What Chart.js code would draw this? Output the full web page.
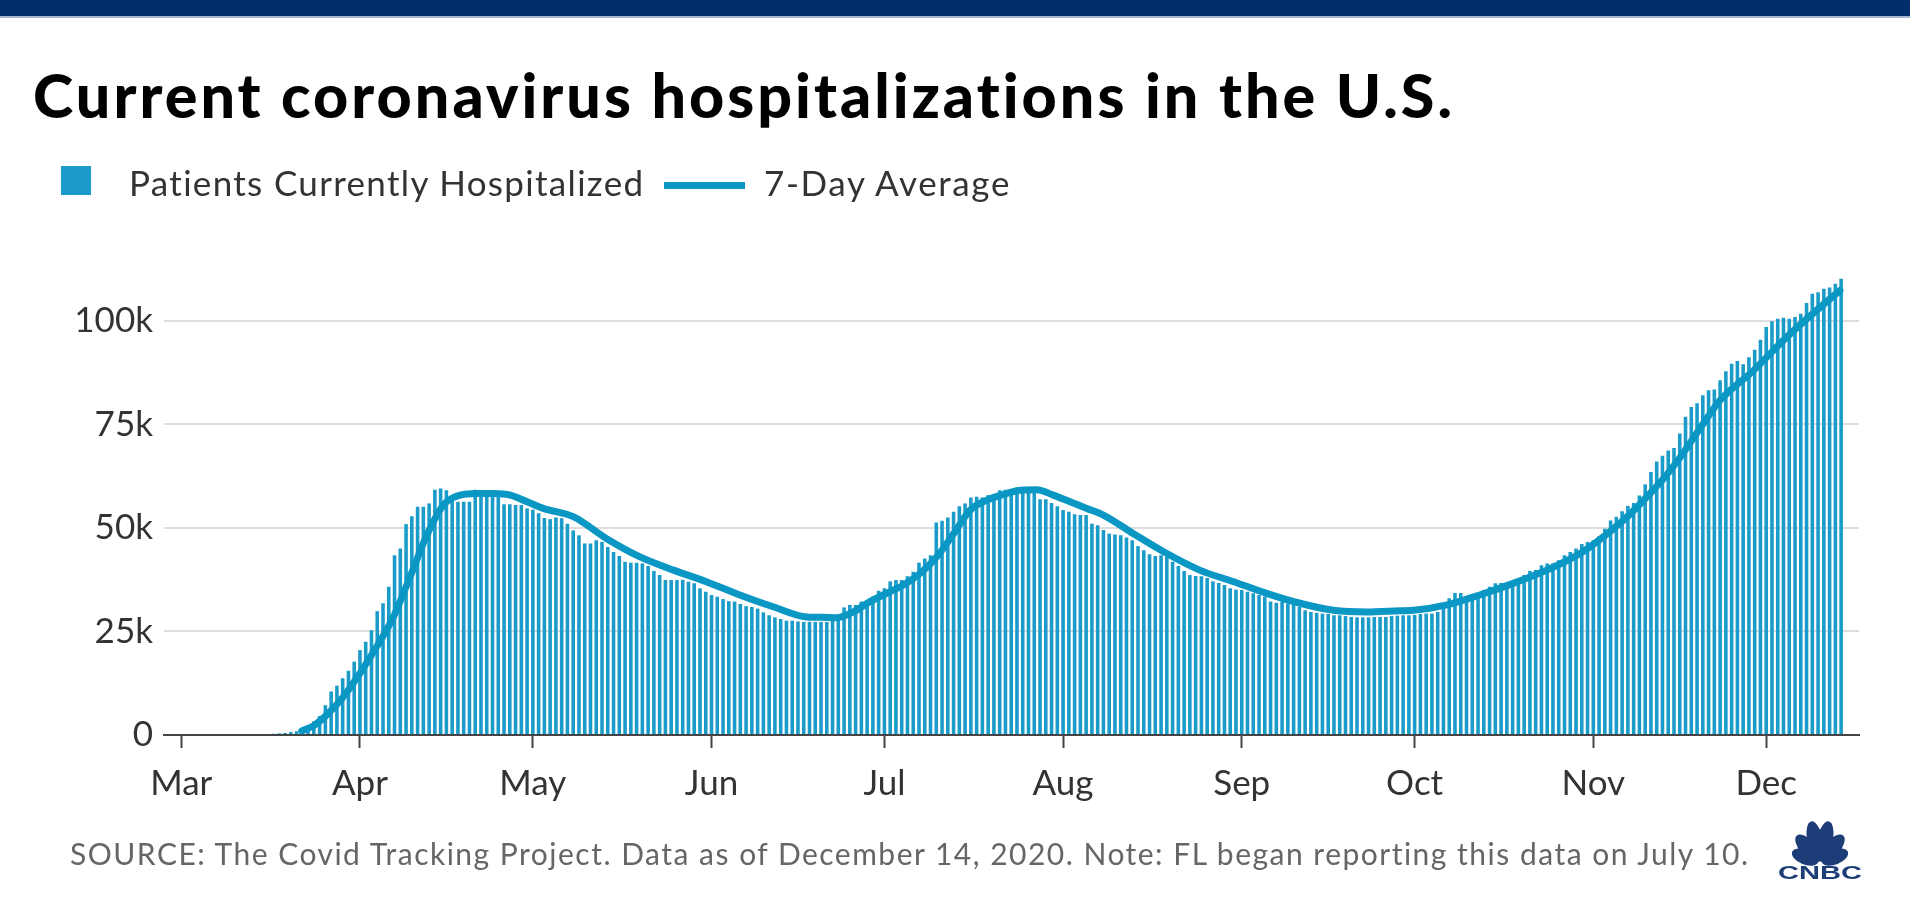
<!DOCTYPE html>
<html>
<head>
<meta charset="utf-8">
<script src="https://cdn.jsdelivr.net/npm/chart.js@4.4.1/dist/chart.umd.min.js"></script>
<style>
html,body{margin:0;padding:0;background:#fff;width:1910px;height:903px;overflow:hidden;font-family:Lato,'Open Sans',sans-serif;}
#c{position:absolute;left:0;top:0;}
.t{position:absolute;white-space:nowrap;line-height:1;}
#topbar{position:absolute;left:0;top:0;width:1910px;height:16px;background:#012d6b;border-bottom:2px solid #a3b4cc;}
#title{left:33px;top:64px;font-size:61px;font-weight:900;color:#000;}
.lg{font-size:35px;color:#333;top:165px;}
#lg1{left:129px;}
#lg2{left:764px;}
#sq{position:absolute;left:61px;top:166px;width:30px;height:29px;background:#1a9bc9;}
#ln{position:absolute;left:664px;top:182px;width:81px;height:7px;background:#0a97c4;}
#src{left:70px;top:838px;font-size:30px;color:#666;}
#logo{position:absolute;left:1774px;top:810px;}
</style>
</head>
<body>
<canvas id="c" width="1910" height="903"></canvas>
<div id="topbar"></div>
<div id="title" class="t">Current coronavirus hospitalizations in the U.S.</div>
<div id="sq"></div>
<div id="lg1" class="t lg">Patients Currently Hospitalized</div>
<div id="ln"></div>
<div id="lg2" class="t lg">7-Day Average</div>
<div id="src" class="t">SOURCE: The Covid Tracking Project. Data as of December 14, 2020. Note: FL began reporting this data on July 10.</div>
<svg id="logo" width="92" height="72" viewBox="0 0 92 72">
  <g fill="#1d3d78">
    <ellipse cx="0" cy="-16" rx="7.5" ry="14" transform="translate(46,53) rotate(-68)"/>
    <ellipse cx="0" cy="-19" rx="8" ry="17" transform="translate(46,53) rotate(-40)"/>
    <ellipse cx="0" cy="-22" rx="8" ry="20.5" transform="translate(46,53) rotate(-12)"/>
    <ellipse cx="0" cy="-22" rx="8" ry="20.5" transform="translate(46,53) rotate(12)"/>
    <ellipse cx="0" cy="-19" rx="8" ry="17" transform="translate(46,53) rotate(40)"/>
    <ellipse cx="0" cy="-16" rx="7.5" ry="14" transform="translate(46,53) rotate(68)"/>
  </g>
  <text x="4" y="69" textLength="84" lengthAdjust="spacingAndGlyphs" font-family="'Liberation Sans Narrow','Liberation Sans',Arial,sans-serif" font-weight="700" font-size="19" fill="#1d3d78">CNBC</text>
</svg>
<script>
// ---- data ----
const monthLabels = ['Mar','Apr','May','Jun','Jul','Aug','Sep','Oct','Nov','Dec'];
const monthStartDays = [0,31,61,92,122,153,184,214,245,275]; // days since Mar 1
const yTickValues = [0,25,50,75,100]; // thousands
const firstBarDay = 16; // Mar 17
// Patients currently hospitalized, thousands, daily from Mar 17 to Dec 14
const hospitalized = [
  0.3,0.4,0.5,0.7,0.9,1.6,2.2,3.3,4.6,7.2,10.5,11.9,13.7,15.5,17.7,
  20.5,22.5,25.3,29.9,31.8,35.8,43.4,45.0,50.9,52.8,55.1,55.1,55.9,59.2,59.5,
  59.1,57.5,56.3,56.3,56.3,59.2,57.6,57.6,57.6,57.5,55.7,55.7,55.5,55.5,54.7,
  54.4,53.5,52.4,52.1,52.5,52.3,51.0,49.4,48.2,46.2,46.2,47.0,46.6,45.4,44.2,
  43.2,41.8,41.6,41.6,41.4,40.8,39.6,38.6,37.4,37.4,37.4,37.5,37.0,36.6,35.4,34.6,
  33.8,33.4,32.8,32.3,32.2,31.6,31.1,30.9,30.5,29.6,28.9,28.4,28.0,27.6,27.6,
  27.4,27.3,27.3,27.3,27.3,27.3,27.9,29.0,30.8,31.4,31.4,32.2,32.6,33.4,34.8,
  35.4,37.1,37.4,37.4,38.3,39.4,41.6,42.6,43.4,51.3,51.7,52.5,53.9,55.2,55.9,
  57.3,57.5,57.3,57.9,57.9,59.1,59.2,59.2,59.7,59.7,59.5,59.1,56.9,56.9,56.0,55.2,
  54.3,53.9,53.3,53.1,53.1,51.0,50.6,49.5,48.6,48.4,48.2,47.7,47.0,45.6,44.6,
  43.6,43.2,43.4,43.0,41.8,40.8,39.6,38.6,38.4,38.3,37.9,37.1,36.7,36.2,35.4,35.1,
  35.0,34.6,34.2,33.8,33.4,32.2,31.9,32.2,31.8,31.4,30.9,30.1,29.7,29.5,29.3,
  29.2,28.9,28.9,28.7,28.5,28.4,28.4,28.4,28.5,28.5,28.5,28.7,28.8,28.9,28.9,
  29.0,29.2,29.3,29.3,29.7,31.6,33.0,34.3,34.3,33.4,33.8,34.2,35.0,35.8,36.6,
  36.7,36.4,36.7,37.4,38.6,39.6,39.8,41.0,41.4,41.4,42.2,43.4,44.2,45.0,46.1,46.6,
  47.0,48.0,49.8,51.8,52.7,54.0,55.3,56.0,57.8,60.5,63.5,66.0,67.4,68.7,69.3,
  72.8,76.8,79.2,80.1,82.0,83.2,83.4,85.6,87.8,89.6,90.3,89.5,91.2,93.0,95.4,
  98.5,99.9,100.5,100.7,100.5,100.9,101.7,104.3,106.5,106.9,107.7,108.0,108.9,110.1
];
// 7-day average line: day positions (since Mar 1) and values (thousands)
const avgDays = [20.9,22.9,25.2,28.1,31.0,33.9,36.8,39.7,42.6,45.5,48.4,51.3,54.2,57.1,60.0,62.8,
  68.0,73.8,79.6,85.4,91.1,96.9,102.8,108.5,111.0,113.7,116.6,119.5,122.4,125.3,128.2,131.1,134.0,
  136.9,139.8,142.7,145.6,148.4,151.3,154.2,157.1,160.0,165.2,171.0,176.7,182.6,188.3,194.1,199.9,
  205.7,211.5,213.8,219.6,225.3,231.1,236.9,242.7,248.5,251.5,254.3,257.2,260.1,264.0,267.0,
  272.8,278.6,284.4,287.8];
const avgValues = [1.0,2.2,4.8,9.2,14.9,21.3,28.5,38.2,48.2,55.5,57.9,58.3,58.3,57.9,56.3,54.7,
  52.7,47.4,43.0,39.8,37.0,33.8,30.9,28.5,28.4,28.3,29.7,32.2,34.2,36.2,39.0,43.0,48.6,
  54.3,56.7,58.1,59.1,59.2,57.9,56.3,54.7,53.1,48.6,43.8,39.8,37.0,34.2,31.8,30.1,
  29.7,30.0,30.1,31.4,33.8,36.6,39.8,43.8,49.8,53.5,57.5,61.9,67.1,75.0,80.8,
  88.0,96.1,103.3,107.3];

// ---- fit text widths to reference ----
function fitWidth(id, target){
  const el = document.getElementById(id);
  const w = el.getBoundingClientRect().width;
  const n = el.textContent.length;
  el.style.letterSpacing = ((target - w) / n) + 'px';
}
fitWidth('title', 1423);
fitWidth('lg1', 516);
fitWidth('lg2', 247);
fitWidth('src', 1680);

// ---- chart ----
const barColor = '#1a9bc9';
const lineColor = '#0a97c4';
const font = {family: "Lato, 'Open Sans', sans-serif", size: 35};

new Chart(document.getElementById('c'), {
  type: 'bar',
  data: {
    datasets: [
      {
        type: 'line',
        label: '7-Day Average',
        order: 0,
        data: avgDays.map((d, i) => ({x: d, y: avgValues[i]})),
        borderColor: lineColor,
        borderWidth: 7,
        pointRadius: 0,
        cubicInterpolationMode: 'monotone',
        fill: false,
        borderCapStyle: 'round',
        borderJoinStyle: 'round'
      },
      {
        type: 'bar',
        label: 'Patients Currently Hospitalized',
        order: 1,
        data: hospitalized.map((v, i) => ({x: firstBarDay + i, y: v})),
        backgroundColor: barColor,
        borderWidth: 0,
        barPercentage: 0.62,
        categoryPercentage: 1.0,
        grouped: false
      }
    ]
  },
  options: {
    responsive: false,
    devicePixelRatio: 1,
    animation: false,
    events: [],
    layout: {padding: {left: 0, right: 51, top: 271, bottom: 88}},
    plugins: {legend: {display: false}, tooltip: {enabled: false}, title: {display: false}},
    scales: {
      x: {
        type: 'linear',
        min: -3,
        max: 291.1,
        offset: false,
        afterFit: s => { s.height = 80; },
        afterBuildTicks: s => { s.ticks = monthStartDays.map(v => ({value: v})); },
        grid: {drawOnChartArea: false, drawTicks: true, tickLength: 13, tickColor: '#444', tickWidth: 2, offset: false},
        border: {display: true, color: '#444', width: 2},
        ticks: {
          autoSkip: false,
          maxRotation: 0,
          padding: 15,
          color: '#333',
          font: font,
          callback: v => monthLabels[monthStartDays.indexOf(v)]
        }
      },
      y: {
        type: 'linear',
        min: 0,
        max: 112,
        afterFit: s => { s.width = 164; },
        afterBuildTicks: s => { s.ticks = yTickValues.map(v => ({value: v})); },
        grid: {
          drawTicks: false,
          lineWidth: 2,
          color: c => (c.tick && c.tick.value === 0) ? 'rgba(0,0,0,0)' : '#dedede'
        },
        border: {display: false},
        ticks: {
          padding: 11,
          color: '#333',
          font: font,
          callback: v => v === 0 ? '0' : v + 'k'
        }
      }
    }
  }
});
</script>
</body>
</html>
